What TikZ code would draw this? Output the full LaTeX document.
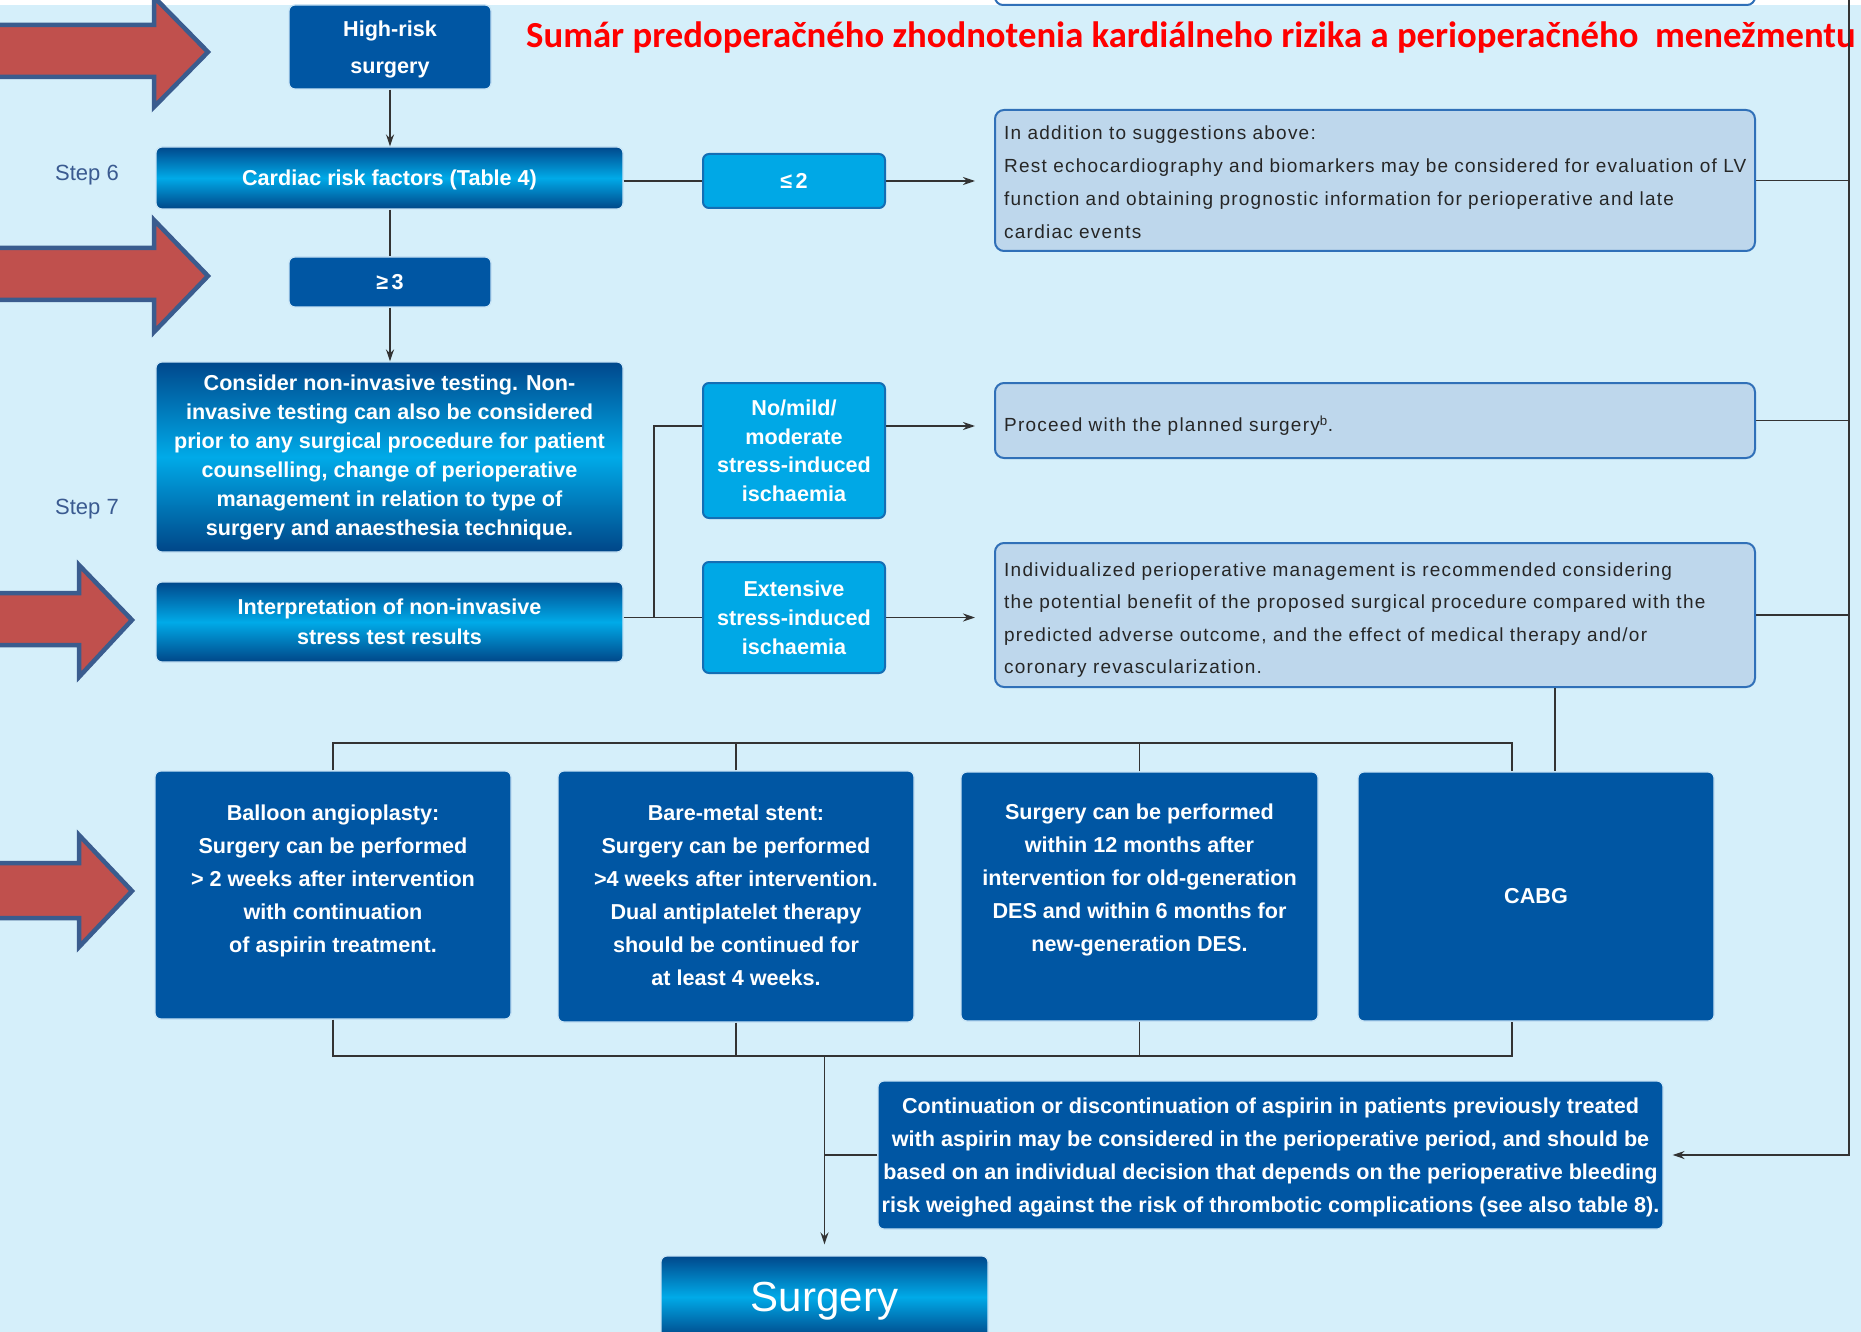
\documentclass[tikz,border=0pt]{standalone}
\usepackage{fontspec}
\setmainfont{Liberation Sans}
\newfontfamily\lightfont{Liberation Sans}[LetterSpace=6.5]
\newfontfamily\titlefont{Carlito}
\usetikzlibrary{arrows.meta,calc}
\definecolor{bgc}{RGB}{213,239,250}
\definecolor{darkc}{RGB}{0,86,163}
\definecolor{boxedge}{RGB}{200,228,246}
\definecolor{gtop}{RGB}{0,72,140}
\definecolor{gmid}{RGB}{0,170,232}
\definecolor{gbot}{RGB}{0,70,136}
\definecolor{cyanc}{RGB}{0,168,230}
\definecolor{cyanedge}{RGB}{20,110,180}
\definecolor{lightc}{RGB}{190,215,236}
\definecolor{lightedge}{RGB}{48,112,184}
\definecolor{ltext}{RGB}{38,38,38}
\definecolor{linec}{RGB}{51,51,51}
\definecolor{redfill}{RGB}{192,80,77}
\definecolor{redborder}{RGB}{58,92,142}
\definecolor{stepc}{RGB}{58,90,144}
\begin{document}
\begin{tikzpicture}[x=1pt,y=-1pt,
  darkbox/.style={fill=darkc, draw=boxedge, line width=1.2pt, rounded corners=6pt, inner sep=0pt, align=center, text=white, font=\fontsize{21.6}{#1}\selectfont\bfseries},
  darkbox/.default=29,
  gradbox/.style={top color=gtop, bottom color=gbot, middle color=gmid, draw=boxedge, line width=1.2pt, rounded corners=6pt, inner sep=0pt, align=center, text=white, font=\fontsize{21.6}{#1}\selectfont\bfseries},
  gradbox/.default=29,
  cyanbox/.style={fill=cyanc, draw=cyanedge, line width=2pt, rounded corners=6pt, inner sep=0pt, align=center, text=white, font=\fontsize{21.6}{#1}\selectfont\bfseries},
  cyanbox/.default=29,
  lightbox/.style={fill=lightc, draw=lightedge, line width=2pt, rounded corners=9pt, inner sep=0pt, minimum width=760pt},
  lighttext/.style={inner sep=0pt, text width=740pt, align=left, text=ltext, font=\lightfont\fontsize{19}{#1}\selectfont},
  lighttext/.default=33,
  whitetext/.style={inner sep=0pt, align=center, text=white, font=\fontsize{21.6}{#1}\selectfont\bfseries},
  whitetext/.default=33,
  steptext/.style={inner sep=0pt, text=stepc, font=\fontsize{22}{24}\selectfont},
  conn/.style={draw=linec, line width=1.8pt},
  arr/.style={conn, -{Stealth[length=12pt,width=8pt]}},
  redarrow/.style={fill=redfill, draw=redborder, line width=4.5pt, line join=miter}
]
\useasboundingbox (0,0) rectangle (1861,1332);
\clip (0,0) rectangle (1861,1332);
\fill[white] (0,0) rectangle (1861,5);
\fill[bgc] (0,5) rectangle (1861,1332);
\draw[lightedge, line width=2pt, rounded corners=8pt] (995,-20) -- (995,5) -- (1755,5) -- (1755,-20);

% red arrows
\draw[redarrow] (-10,25) -- (154,25) -- (154,-3) -- (208,52) -- (154,107) -- (154,77) -- (-10,77) -- cycle;
\draw[redarrow] (-10,248) -- (154,248) -- (154,220) -- (208,276) -- (154,332) -- (154,300) -- (-10,300) -- cycle;
\draw[redarrow] (-10,593) -- (79,593) -- (79,565) -- (132,620) -- (79,677) -- (79,645) -- (-10,645) -- cycle;
\draw[redarrow] (-10,863) -- (79,863) -- (79,835) -- (132,891) -- (79,947) -- (79,918) -- (-10,918) -- cycle;

% title and steps
\node[anchor=base west, text=red, inner sep=0pt, font=\titlefont\fontsize{36.7}{40}\selectfont\bfseries] (title) at (526,48) {Sumár predoperačného zhodnotenia kardiálneho rizika a perioperačného\ \ menežmentu};
\node[steptext] (s6) at (87,175) {Step 6};
\node[steptext] (s7) at (87,509) {Step 7};

% left column
\node[darkbox=37, minimum width=202pt, minimum height=84pt, text depth=0pt] (hr) at (390,47) {High-risk\\surgery};
\node[gradbox, minimum width=467pt, minimum height=62pt, text depth=0pt] (crf) at (389.5,178) {Cardiac risk factors (Table 4)};
\node[darkbox, minimum width=202pt, minimum height=50pt] (ge3) at (390,282) {≥\,3};
\node[gradbox=29, minimum width=467pt, minimum height=190pt] (cons) at (389.5,457) {Consider non-invasive testing. Non-\\invasive testing can also be considered\\prior to any surgical procedure for patient\\counselling, change of perioperative\\management in relation to type of\\surgery and anaesthesia technique.};
\node[gradbox=30, minimum width=467pt, minimum height=80pt, text depth=0pt] (interp) at (389.5,622) {Interpretation of non-invasive\\stress test results};

% middle column
\node[cyanbox, minimum width=182pt, minimum height=54pt] (le2) at (794,181) {≤\,2};
\node[cyanbox=28.6, minimum width=182pt, minimum height=135pt, text depth=0pt] (nomild) at (794,450.5) {No/mild/\\moderate\\stress-induced\\ischaemia};
\node[cyanbox=29, minimum width=182pt, minimum height=111pt, text depth=0pt] (ext) at (794,617.5) {Extensive\\stress-induced\\ischaemia};

% light boxes
\node[lightbox, minimum height=141pt] (lt1) at (1375,180.5) {};
\node[lighttext, anchor=west] (lt1t) at ($(lt1.west)+(10,2)$) {In addition to suggestions above:\\\mbox{Rest echocardiography and biomarkers may be considered for evaluation of LV}\\\mbox{function and obtaining prognostic information for perioperative and late}\\cardiac events};
\node[lightbox, minimum height=75pt] (lt2) at (1375,420.5) {};
\node[lighttext, anchor=west] (lt2t) at ($(lt2.west)+(10,5)$) {Proceed with the planned surgery\textsuperscript{b}.};
\node[lightbox, minimum height=144pt] (lt3) at (1375,615) {};
\node[lighttext=32.4, anchor=west] (lt3t) at ($(lt3.west)+(10,5)$) {\mbox{Individualized perioperative management is recommended considering}\\\mbox{the potential benefit of the proposed surgical procedure compared with the}\\\makebox[682pt][s]{predicted adverse outcome, and the effect of medical therapy and/or}\\coronary revascularization.};

% bottom boxes
\node[darkbox, minimum width=356pt, minimum height=248pt] (ball) at (333,895) {};
\node[whitetext, anchor=north] (ballt) at (333,805) {Balloon angioplasty:\\Surgery can be performed\\> 2 weeks after intervention\\with continuation\\of aspirin treatment.};
\node[darkbox, minimum width=356pt, minimum height=251pt] (bms) at (736,896.5) {};
\node[whitetext, anchor=north] (bmst) at (736,805) {Bare-metal stent:\\Surgery can be performed\\>4 weeks after intervention.\\Dual antiplatelet therapy\\should be continued for\\at least 4 weeks.};
\node[darkbox, minimum width=357pt, minimum height=249pt] (des) at (1139.5,896.5) {};
\node[whitetext, anchor=north] (dest) at (1139.5,804) {Surgery can be performed\\within 12 months after\\intervention for old-generation\\DES and within 6 months for\\new-generation DES.};
\node[darkbox, minimum width=356pt, minimum height=249pt] (cabg) at (1536,896.5) {CABG};
\node[darkbox=33, minimum width=785pt, minimum height=148pt, text depth=0pt] (cont) at (1270.5,1155) {Continuation or discontinuation of aspirin in patients previously treated\\with aspirin may be considered in the perioperative period, and should be\\based on an individual decision that depends on the perioperative bleeding\\risk weighed against the risk of thrombotic complications (see also table 8).};
\node[gradbox, minimum width=327pt, minimum height=82pt, text depth=0pt, font=\fontsize{42}{48}\selectfont] (surg) at (824.5,1297) {Surgery};

% connectors
\coordinate (jx) at (654,426);
\coordinate (rb) at (1849,0);
\coordinate (cx) at (1555,0);
\coordinate (cb) at (1512,743);
\coordinate (bb) at (1512,1056);
\draw[arr] (hr.south) -- (hr.south |- crf.north);
\draw[conn] (ge3.north |- crf.south) -- (ge3.north);
\draw[arr] (ge3.south) -- (ge3.south |- cons.north);
\draw[conn] (le2.west -| crf.east) -- (le2.west);
\draw[arr, shorten >=19pt] (le2.east) -- (le2.east -| lt1.west);
\draw[conn] (interp.east |- ext.west) -- (ext.west);
\draw[conn] (jx |- ext.west) -- (jx) -- (jx -| nomild.west);
\draw[arr, shorten >=19pt] (jx -| nomild.east) -- (jx -| lt2.west);
\draw[arr, shorten >=19pt] (ext.east) -- (ext.east -| lt3.west);
\draw[conn] (lt1.east) -- (lt1.east -| rb);
\draw[conn] (lt2.east) -- (lt2.east -| rb);
\draw[conn] (lt3.east) -- (lt3.east -| rb);
\draw[arr, shorten >=9pt] (rb) -- (rb |- cont.east) -- (cont.east);
\draw[conn] (cx |- lt3.south) -- (cx |- cabg.north);
\draw[conn] (ball.north) |- (cb) -- (cb |- cabg.north);
\draw[conn] (bms.north) -- (bms.north |- cb);
\draw[conn] (des.north) -- (des.north |- cb);
\draw[conn] (ball.south) |- (bb) -- (bb |- cabg.south);
\draw[conn] (bms.south) -- (bms.south |- bb);
\draw[conn] (des.south) -- (des.south |- bb);
\draw[arr, shorten >=11pt] (surg.north |- bb) -- (surg.north);
\draw[conn] (cont.west) -- (cont.west -| surg.north);
\end{tikzpicture}
\end{document}
